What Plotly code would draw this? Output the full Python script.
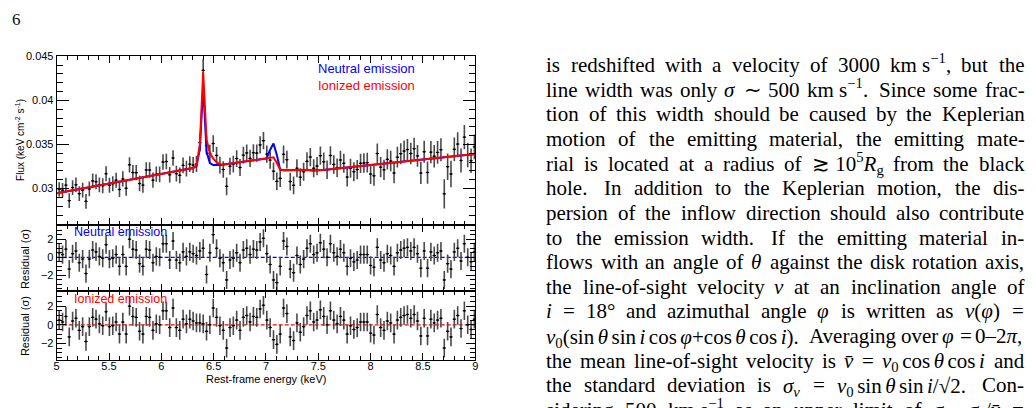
import re
import plotly.graph_objects as go

# ---------------- data ----------------
energy = [5.024, 5.056, 5.088, 5.120, 5.152, 5.184, 5.216, 5.248, 5.280, 5.312,
          5.344, 5.376, 5.408, 5.440, 5.472, 5.504, 5.536, 5.568, 5.600, 5.632,
          5.664, 5.696, 5.728, 5.760, 5.792, 5.824, 5.856, 5.888, 5.920, 5.952,
          5.984, 6.016, 6.048, 6.080, 6.112, 6.144, 6.176, 6.208, 6.240, 6.272,
          6.304, 6.336, 6.368, 6.400, 6.432, 6.464, 6.496, 6.528, 6.560, 6.592,
          6.624, 6.656, 6.688, 6.720, 6.752, 6.784, 6.816, 6.848, 6.880, 6.912,
          6.944, 6.976, 7.008, 7.040, 7.072, 7.104, 7.136, 7.168, 7.200, 7.232,
          7.264, 7.296, 7.328, 7.360, 7.392, 7.424, 7.456, 7.488, 7.520, 7.552,
          7.584, 7.616, 7.648, 7.680, 7.712, 7.744, 7.776, 7.808, 7.840, 7.872,
          7.904, 7.936, 7.968, 8.000, 8.032, 8.064, 8.096, 8.128, 8.160, 8.192,
          8.224, 8.256, 8.288, 8.320, 8.352, 8.384, 8.416, 8.448, 8.480, 8.512,
          8.544, 8.576, 8.608, 8.640, 8.672, 8.704, 8.736, 8.768, 8.800, 8.832,
          8.864, 8.896, 8.928, 8.960, 8.992]

flux = [0.02991, 0.02982, 0.03039, 0.02863, 0.03011, 0.03043, 0.02942, 0.02982, 0.02855, 0.02996,
        0.03087, 0.03077, 0.03042, 0.03032, 0.03167, 0.03038, 0.03054, 0.03095, 0.02990, 0.03109,
        0.03004, 0.03269, 0.03181, 0.03180, 0.03057, 0.03039, 0.03211, 0.03210, 0.03095, 0.03163,
        0.03161, 0.03300, 0.03307, 0.03156, 0.03347, 0.03169, 0.03150, 0.03263, 0.03226, 0.03277,
        0.03267, 0.03278, 0.03520, 0.04340, 0.03487, 0.03400, 0.03510, 0.03376, 0.03266, 0.03216,
        0.03025, 0.03253, 0.03277, 0.03340, 0.03239, 0.03379, 0.03404, 0.03342, 0.03406, 0.03402,
        0.03495, 0.03543, 0.03391, 0.03323, 0.03197, 0.03082, 0.03116, 0.03388, 0.03328, 0.03079,
        0.03037, 0.03230, 0.03129, 0.03191, 0.03309, 0.03357, 0.03230, 0.03255, 0.03373, 0.03304,
        0.03213, 0.03375, 0.03274, 0.03236, 0.03324, 0.03287, 0.03130, 0.03230, 0.03191, 0.03216,
        0.03286, 0.03290, 0.03294, 0.03164, 0.03145, 0.03397, 0.03243, 0.03212, 0.03331, 0.03312,
        0.03176, 0.03356, 0.03396, 0.03425, 0.03442, 0.03398, 0.03452, 0.03370, 0.03176, 0.03417,
        0.03182, 0.03413, 0.03367, 0.03410, 0.03440, 0.02940, 0.03248, 0.03166, 0.03445, 0.03504,
        0.03319, 0.03583, 0.03381, 0.03316, 0.03473]

flux_err = [0.00082, 0.00082, 0.00083, 0.00083, 0.00083, 0.00083, 0.00083, 0.00083, 0.00084, 0.00084,
            0.00084, 0.00084, 0.00084, 0.00085, 0.00085, 0.00085, 0.00085, 0.00085, 0.00086, 0.00086,
            0.00086, 0.00086, 0.00086, 0.00086, 0.00087, 0.00087, 0.00087, 0.00087, 0.00087, 0.00087,
            0.00088, 0.00088, 0.00088, 0.00088, 0.00088, 0.00089, 0.00089, 0.00089, 0.00089, 0.00089,
            0.00090, 0.00090, 0.00100, 0.00125, 0.00105, 0.00097, 0.00095, 0.00095, 0.00095, 0.00094,
            0.00100, 0.00095, 0.00095, 0.00095, 0.00096, 0.00096, 0.00096, 0.00097, 0.00097, 0.00097,
            0.00097, 0.00098, 0.00098, 0.00098, 0.00099, 0.00099, 0.00099, 0.00100, 0.00100, 0.00100,
            0.00101, 0.00101, 0.00101, 0.00102, 0.00102, 0.00103, 0.00103, 0.00103, 0.00104, 0.00104,
            0.00104, 0.00105, 0.00105, 0.00106, 0.00106, 0.00107, 0.00107, 0.00108, 0.00108, 0.00109,
            0.00110, 0.00110, 0.00111, 0.00112, 0.00113, 0.00113, 0.00114, 0.00115, 0.00116, 0.00117,
            0.00117, 0.00118, 0.00119, 0.00120, 0.00121, 0.00122, 0.00123, 0.00123, 0.00124, 0.00125,
            0.00126, 0.00127, 0.00128, 0.00129, 0.00130, 0.00165, 0.00150, 0.00150, 0.00134, 0.00135,
            0.00136, 0.00137, 0.00138, 0.00139, 0.00140]

bin_half_width = 0.016

resid_neutral = [0.5, 0.3, 0.9, -1.3, 0.4, 0.7, -0.6, -0.2, -1.8, -0.2,
                 0.8, 0.6, 0.1, -0.1, 1.4, -0.2, -0.1, 0.3, -1.0, 0.3,
                 -1.0, 2.0, 0.9, 0.8, -0.7, -1.0, 0.9, 0.8, -0.6, 0.1,
                 0.0, 1.5, 1.5, -0.3, 1.8, -0.3, -0.6, 0.6, 0.1, 0.6,
                 0.4, 0.2, 0.7, 1.0, -1.9, 0.5, 2.5, 1.0, -0.1, -0.6,
                 -2.5, -0.3, -0.1, 0.5, -0.6, 0.8, 1.0, 0.3, 0.9, 0.8,
                 1.7, 2.1, 0.4, -0.8, -2.5, -2.8, -1.0, 1.8, 1.2, -1.3,
                 -1.7, 0.2, -0.8, -0.2, 1.0, 1.5, 0.3, 0.5, 1.6, 0.9,
                 0.0, 1.5, 0.5, 0.1, 0.9, 0.5, -1.0, -0.1, -0.5, -0.3,
                 0.3, 0.3, 0.3, -0.9, -1.1, 1.1, -0.3, -0.6, 0.4, 0.2,
                 -1.0, 0.5, 0.8, 1.0, 1.1, 0.7, 1.1, 0.4, -1.2, 0.7,
                 -1.2, 0.6, 0.2, 0.5, 0.7, -2.5, -0.7, -1.3, 0.6, 1.0,
                 -0.4, 1.5, 0.0, -0.5, 0.6]

resid_ionized = [0.5, 0.3, 0.9, -1.3, 0.4, 0.7, -0.6, -0.2, -1.8, -0.2,
                 0.8, 0.6, 0.1, -0.1, 1.4, -0.2, -0.1, 0.3, -1.0, 0.3,
                 -1.0, 2.0, 0.9, 0.8, -0.7, -1.0, 0.9, 0.8, -0.6, 0.1,
                 0.0, 1.5, 1.5, -0.3, 1.8, -0.3, -0.6, 0.6, 0.1, 0.6,
                 0.4, 0.2, 0.2, 0.1, -0.7, 0.0, 1.8, 0.8, -0.1, -0.6,
                 -2.5, -0.3, -0.1, 0.5, -0.6, 0.8, 1.0, 0.3, 0.9, 0.8,
                 1.7, 2.1, 0.5, -0.3, -1.6, -2.1, -1.0, 1.8, 1.2, -1.3,
                 -1.7, 0.2, -0.8, -0.2, 1.0, 1.5, 0.3, 0.5, 1.6, 0.9,
                 0.0, 1.5, 0.5, 0.1, 0.9, 0.5, -1.0, -0.1, -0.5, -0.3,
                 0.3, 0.3, 0.3, -0.9, -1.1, 1.1, -0.3, -0.6, 0.4, 0.2,
                 -1.0, 0.5, 0.8, 1.0, 1.1, 0.7, 1.1, 0.4, -1.2, 0.7,
                 -1.2, 0.6, 0.2, 0.5, 0.7, -2.5, -0.7, -1.3, 0.6, 1.0,
                 -0.4, 1.5, 0.0, -0.5, 0.6]

model_neutral_energy = [5.0, 5.5, 6.0, 6.304, 6.336, 6.368, 6.400, 6.432, 6.464, 6.496,
                        6.528, 6.6, 7.0, 7.008, 7.040, 7.072, 7.104, 7.136, 7.168, 7.4,
                        7.45, 7.55, 8.0, 8.5, 9.0]
model_neutral_flux = [0.02946, 0.03056, 0.03166, 0.03233, 0.03255, 0.03450, 0.04160, 0.03420, 0.03290, 0.03266,
                      0.03268, 0.03272, 0.03340, 0.03350, 0.03440, 0.03510, 0.03380, 0.03215, 0.03208, 0.03212,
                      0.03205, 0.03210, 0.03266, 0.03329, 0.03391]

model_ionized_energy = [5.0, 5.5, 6.0, 6.304, 6.336, 6.368, 6.400, 6.432, 6.464, 6.496,
                        6.528, 6.560, 6.6, 7.0, 7.040, 7.072, 7.104, 7.136, 7.168, 7.4,
                        7.45, 7.55, 8.0, 8.5, 9.0]
model_ionized_flux = [0.02946, 0.03056, 0.03166, 0.03233, 0.03260, 0.03500, 0.04320, 0.03560, 0.03400, 0.03340,
                      0.03300, 0.03276, 0.03272, 0.03340, 0.03352, 0.03355, 0.03290, 0.03215, 0.03208, 0.03212,
                      0.03199, 0.03210, 0.03266, 0.03329, 0.03391]

x_ticks = [5, 5.5, 6, 6.5, 7, 7.5, 8, 8.5, 9]
x_tick_labels = ["5", "5.5", "6", "6.5", "7", "7.5", "8", "8.5", "9"]
flux_ticks = [0.03, 0.035, 0.04, 0.045]
flux_tick_labels = ["0.03", "0.035", "0.04", "0.045"]
resid_ticks = [-2, 0, 2]
resid_tick_labels = ["\u22122", "0", "2"]

# body text of the page column
#   "~" = fixed normal space, "_" = fixed thin (math) space; plain spaces stretch
body_lines = [
    "is redshifted with a velocity of 3000 km~s<sup>\u22121</sup>, but the",
    "line width was only <i>\u03c3</i> \u223c 500 km~s<sup>\u22121</sup>. Since some frac-",
    "tion of this width should be caused by the Keplerian",
    "motion of the emitting material, the emitting mate-",
    "rial is located at a radius of \u2273~10<sup>5</sup><i>R</i><sub>g</sub> from the black",
    "hole. In addition to the Keplerian motion, the dis-",
    "persion of the inflow direction should also contribute",
    "to the emission width. If the emitting material in-",
    "flows with an angle of <i>\u03b8</i> against the disk rotation axis,",
    "the line-of-sight velocity <i>v</i> at an inclination angle of",
    "<i>i</i> = 18\u00b0 and azimuthal angle <i>\u03c6</i> is written as <i>v</i>(<i>\u03c6</i>) =",
    "<i>v</i><sub>0</sub>(sin_<i>\u03b8</i>_sin_<i>i</i>_cos_<i>\u03c6</i>+cos_<i>\u03b8</i>_cos_<i>i</i>). Averaging over <i>\u03c6</i> = 0\u20132<i>\u03c0</i>,",
    "the mean line-of-sight velocity is <i>v\u0304</i> = <i>v</i><sub>0</sub>_cos_<i>\u03b8</i>_cos_<i>i</i> and",
    "the standard deviation is <i>\u03c3<sub>v</sub></i> = <i>v</i><sub>0</sub>_sin_<i>\u03b8</i>_sin_<i>i</i>/\u221a2. Con-",
    "sidering 500 km~s<sup>\u22121</sup> as an upper limit of <i>\u03c3<sub>v</sub></i>, <i>\u03c3<sub>v</sub></i>/<i>v\u0304</i> =",
]

# ---------------- helpers for layout ----------------
W, H = 1036, 408
def px_x(p):
    return p / W
def px_y(p):
    return 1 - p / H

# approximate advance widths (1/1000 em) of Liberation Serif (Times metrics)
ROMAN = {' ': 250, '\u2006': 167, '!': 333, '(': 333, ')': 333, '+': 564, ',': 250,
         '-': 333, '.': 250, '/': 278, '=': 564, '\u00b0': 400, '\u2212': 564,
         '\u223c': 838, '\u2273': 838, '\u2013': 500, '\u221a': 549, '\u0304': 0,
         'A': 722, 'C': 667, 'I': 333, 'K': 722, 'S': 556, 'R': 667,
         'a': 444, 'b': 500, 'c': 444, 'd': 500, 'e': 444, 'f': 333, 'g': 500, 'h': 500,
         'i': 278, 'j': 278, 'k': 500, 'l': 278, 'm': 778, 'n': 500, 'o': 500, 'p': 500,
         'q': 500, 'r': 333, 's': 389, 't': 278, 'u': 500, 'v': 500, 'w': 722, 'x': 500,
         'y': 500, 'z': 444, '\u03c3': 560, '\u03b8': 520, '\u03c6': 640, '\u03c0': 580}
for d in "0123456789":
    ROMAN[d] = 500
ITALIC = {'i': 278, 'v': 444, 'R': 611, '\u03c3': 560, '\u03b8': 520, '\u03c6': 640,
          '\u03c0': 580, '\u0304': 0}

def text_width(html, size):
    w = 0.0
    italic = False
    scale = 1.0
    for tok in re.split(r'(<[^>]+>)', html):
        if not tok:
            continue
        if tok.startswith('<'):
            t = tok.lower()
            if t == '<i>':
                italic = True
            elif t == '</i>':
                italic = False
            elif t in ('<sup>', '<sub>'):
                scale = 0.7
            elif t in ('</sup>', '</sub>'):
                scale = 1.0
            continue
        for ch in tok:
            v = ITALIC.get(ch) if italic else None
            if v is None:
                v = ROMAN.get(ch, 500)
            w += v / 1000.0 * size * scale
    return w

BLUE = "#0000ff"
RED = "#ff0000"
SANS = "Liberation Sans"
SERIF = "Liberation Serif"

fig = go.Figure()

bar_style = dict(color="#4a4a4a", thickness=1.6, width=0)
xbar_style = dict(type="constant", value=bin_half_width, color="black", thickness=1, width=0)

fig.add_trace(go.Scatter(x=energy, y=flux, mode="markers",
                         marker=dict(size=2, color="black"),
                         error_y=dict(type="data", array=flux_err, **bar_style),
                         error_x=xbar_style, xaxis="x", yaxis="y"))
fig.add_trace(go.Scatter(x=model_neutral_energy, y=model_neutral_flux, mode="lines",
                         line=dict(color=BLUE, width=2), xaxis="x", yaxis="y"))
fig.add_trace(go.Scatter(x=model_ionized_energy, y=model_ionized_flux, mode="lines",
                         line=dict(color=RED, width=2), xaxis="x", yaxis="y"))

fig.add_trace(go.Scatter(x=energy, y=resid_neutral, mode="markers",
                         marker=dict(size=2, color="black"),
                         error_y=dict(type="constant", value=1, **bar_style),
                         error_x=xbar_style, xaxis="x2", yaxis="y2"))
fig.add_trace(go.Scatter(x=energy, y=resid_ionized, mode="markers",
                         marker=dict(size=2, color="black"),
                         error_y=dict(type="constant", value=1, **bar_style),
                         error_x=xbar_style, xaxis="x3", yaxis="y3"))

fig.add_shape(type="line", xref="x2 domain", yref="y2", x0=0, x1=1, y0=0, y1=0,
              line=dict(color=BLUE, width=1.2, dash="4px,2px"), layer="below")
fig.add_shape(type="line", xref="x3 domain", yref="y3", x0=0, x1=1, y0=0, y1=0,
              line=dict(color=RED, width=1.2, dash="4px,2px"), layer="below")

xdom = [px_x(54), px_x(475)]
tickfont = dict(family=SANS, size=11, color="black")

def xaxis_cfg(labels):
    return dict(domain=xdom, range=[5, 9], tickmode="array", tickvals=x_ticks,
                ticktext=x_tick_labels, showticklabels=labels, ticks="inside",
                ticklen=7, tickwidth=1, tickcolor="black", mirror="ticks",
                showline=True, linecolor="black", linewidth=1, showgrid=False,
                zeroline=False, tickfont=tickfont,
                minor=dict(tickmode="linear", tick0=5, dtick=0.1, ticks="inside",
                           ticklen=4, tickcolor="black", showgrid=False))

def resid_y_cfg(dom):
    return dict(domain=dom, range=[-3.75, 3.6], tickmode="array", tickvals=resid_ticks,
                ticktext=resid_tick_labels, ticks="inside", ticklen=9, tickwidth=1,
                tickcolor="black", mirror="ticks", showline=True, linecolor="black",
                linewidth=1, showgrid=False, zeroline=False, tickfont=tickfont,
                minor=dict(tickmode="linear", tick0=0, dtick=0.5, ticks="inside",
                           ticklen=5, tickcolor="black", showgrid=False))

fig.update_layout(
    width=W, height=H, autosize=False,
    margin=dict(l=0, r=0, t=0, b=0),
    paper_bgcolor="white", plot_bgcolor="white",
    showlegend=False,
    xaxis=dict(anchor="y", **xaxis_cfg(False)),
    xaxis2=dict(anchor="y2", matches="x", **xaxis_cfg(False)),
    xaxis3=dict(anchor="y3", matches="x", ticklabelstandoff=-4, **xaxis_cfg(True)),
    yaxis=dict(domain=[px_y(222), px_y(51)], range=[0.0259, 0.045], anchor="x",
               tickmode="array", tickvals=flux_ticks, ticktext=flux_tick_labels,
               ticks="inside", ticklen=12, tickwidth=1, tickcolor="black",
               mirror="ticks", showline=True, linecolor="black", linewidth=1,
               showgrid=False, zeroline=False, tickfont=tickfont,
               minor=dict(tickmode="linear", tick0=0.03, dtick=0.001, ticks="inside",
                          ticklen=6, tickcolor="black", showgrid=False)),
    yaxis2=dict(anchor="x2", **resid_y_cfg([px_y(289.5), px_y(222)])),
    yaxis3=dict(anchor="x3", **resid_y_cfg([px_y(359), px_y(289.5)])),
)

ann = []
ann.append(dict(text="6", x=px_x(7), y=px_y(14), xanchor="left", yanchor="middle",
                font=dict(family=SERIF, size=17, color="#111")))
ann.append(dict(text="Flux (keV cm<sup>-2</sup> s<sup>-1</sup>)", x=px_x(17), y=px_y(136),
                textangle=-90, xanchor="center", yanchor="middle",
                font=dict(family=SANS, size=10, color="black")))
ann.append(dict(text="Residual (\u03c3)", x=px_x(22), y=px_y(257), textangle=-90,
                xanchor="center", yanchor="middle", font=dict(family=SANS, size=11, color="black")))
ann.append(dict(text="Residual (\u03c3)", x=px_x(22), y=px_y(325), textangle=-90,
                xanchor="center", yanchor="middle", font=dict(family=SANS, size=11, color="black")))
ann.append(dict(text="Rest-frame energy (keV)", x=px_x(264.5), y=px_y(379),
                xanchor="center", yanchor="middle", font=dict(family=SANS, size=11, color="black")))
ann.append(dict(text="Neutral emission", x=px_x(315), y=px_y(63), xanchor="left",
                yanchor="middle", font=dict(family=SANS, size=13, color=BLUE)))
ann.append(dict(text="Ionized emission", x=px_x(315), y=px_y(81), xanchor="left",
                yanchor="middle", font=dict(family=SANS, size=13, color=RED)))
ann.append(dict(text="Neutral emission", x=px_x(69), y=px_y(229), xanchor="left",
                yanchor="middle", font=dict(family=SANS, size=12.5, color=BLUE)))
ann.append(dict(text="Ionized emission", x=px_x(69), y=px_y(297), xanchor="left",
                yanchor="middle", font=dict(family=SANS, size=12.5, color=RED)))

# justified text column: each word group placed so the line spans the column width
BODY_SIZE = 21
COL_LEFT, COL_RIGHT = 546.5, 1027.0
for i, line in enumerate(body_lines):
    words = line.split(" ")
    shown = [w.replace("~", " ").replace("_", "\u2006") for w in words]
    widths = [text_width(s, BODY_SIZE) for s in shown]
    extra = [4.0 if (k < len(words) - 1 and shown[k].endswith(".")) else 0.0
             for k in range(len(words))]
    ngaps = len(words) - 1
    gap = (COL_RIGHT - COL_LEFT - sum(widths) - sum(extra)) / ngaps
    gap = max(gap, 3.0)
    x = COL_LEFT
    y_line = 60 + 25 * i
    for s, w, e in zip(shown, widths, extra):
        dy = 0.0
        if "<sup>" in s:
            dy -= 1.6
        if "<sub>" in s:
            dy += 1.55
        ann.append(dict(text=s, x=px_x(x), y=px_y(y_line + dy), xanchor="left",
                        yanchor="middle", borderpad=0, borderwidth=0,
                        font=dict(family=SERIF, size=BODY_SIZE, color="#000")))
        x += w + gap + e

for a in ann:
    a.update(xref="paper", yref="paper", showarrow=False)
fig.update_layout(annotations=ann)

fig.write_html("out.html")
